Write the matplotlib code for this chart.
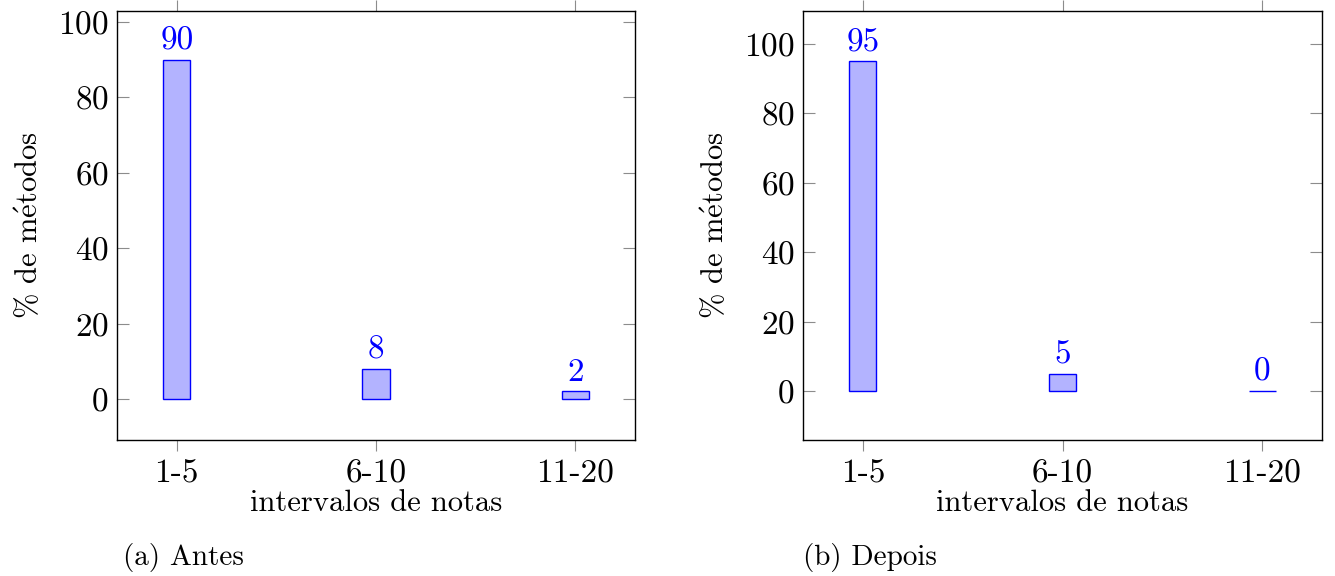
import numpy as np
import matplotlib.pyplot as plt

plt.rcParams.update({
    "font.family": ["cmr10", "DejaVu Serif"],
    "mathtext.fontset": "cm",
    "axes.formatter.use_mathtext": True,
    "font.size": 24,
    "axes.unicode_minus": False,
})

# dados
categorias = ['1-5', '6-10', '11-20']
antes = [90, 8, 2]
depois = [95, 5, 0]

W, H = 1335, 576
fig = plt.figure(figsize=(W / 100, H / 100), dpi=100)

paineis = [
    (antes, [117, 136, 518, 429], (-10.9, 102.9), '(a) Antes', 123),
    (depois, [803, 136, 519, 429], (-14.1, 109.5), '(b) Depois', 803),
]

x = np.arange(len(categorias))
for valores, pos, ylim, legenda, xcap in paineis:
    ax = fig.add_axes([pos[0] / W, pos[1] / H, pos[2] / W, pos[3] / H])
    ax.bar(x, valores, width=0.136, color=(0.7, 0.7, 1.0),
           edgecolor='blue', linewidth=1.0)
    for xi, v in zip(x, valores):
        ax.annotate(f'{v}', xy=(xi, v), xytext=(0, 3), textcoords='offset points',
                    ha='center', va='bottom', color='blue', fontsize=24)
    ax.set_xlim(-0.30, 2.30)
    ax.set_ylim(*ylim)
    ax.set_xticks(x)
    ax.set_xticklabels(categorias)
    ax.set_yticks([0, 20, 40, 60, 80, 100])
    ax.tick_params(axis='y', direction='in', left=True, right=True,
                   length=8.5, width=0.8, color='0.55', pad=6)
    ax.tick_params(axis='x', direction='out', top=True, bottom=True,
                   length=8, width=0.8, color='0.55', pad=6)
    for s in ax.spines.values():
        s.set_linewidth(1.0)
    ax.set_xlabel('intervalos de notas', fontsize=22, labelpad=1)
    ax.set_ylabel(r'% de m$\mathrm{\acute{e}}$todos', fontsize=22, labelpad=10)
    fig.text(xcap / W, 1 - 557 / H, legenda, ha='left', va='center', fontsize=21)

plt.savefig('out.png', dpi=100)
